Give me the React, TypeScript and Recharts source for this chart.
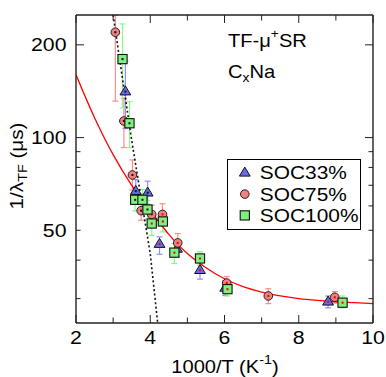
import { ComposedChart, Line, Scatter, XAxis, YAxis, ErrorBar, Legend } from "recharts";

const W = 386;
const H = 377;
const FONT = "'Liberation Sans', Arial, Helvetica, sans-serif";
const SX = 1.15; // the source figure is a bit wide, stretch text to match
const AXIS = "#222";

const X_TICKS = [2, 3, 4, 5, 6, 7, 8, 9, 10];
const X_LABELS = [2, 4, 6, 8, 10];
const Y_TICKS = [30, 40, 50, 60, 70, 80, 90, 100, 200];
const Y_LABELS = [50, 100, 200];
const Y_LONG = [100, 200];

const SERIES_NAMES = ["SOC33%", "SOC75%", "SOC100%"];

// SOC33%
const soc33X = [3.33, 3.61, 3.93, 4.25, 4.72, 5.34, 6.02, 8.79];
const soc33Y = [141, 67, 66.2, 45.1, 43.5, 37.1, 32.5, 29.3];
const soc33Lo = [34, 5, 5.5, 3.3, 2.5, 2.4, 1.8, 1.3];
const soc33Hi = [36, 6, 6, 2.5, 2.5, 2.4, 1.8, 1.3];

// SOC75%
const soc75X = [3.06, 3.29, 3.52, 3.755, 4.04, 4.33, 4.74, 6.06, 7.18, 8.97];
const soc75Y = [219.8, 113.2, 75.6, 57.9, 56.3, 56.3, 45.5, 33.7, 30.6, 30.3];
const soc75Lo = [88.5, 20.4, 8, 4, 4, 4, 3, 1.7, 1.7, 1.3];
const soc75Hi = [30, 21, 9, 4, 4, 4.7, 3.3, 1.7, 1.7, 1.3];

// SOC100%
const soc100X = [3.253, 3.44, 3.594, 3.79, 3.925, 4.04, 4.34, 4.65, 5.34, 6.08, 9.18];
const soc100Y = [179.8, 111.3, 62.8, 62.8, 58.4, 52.6, 53.4, 42.3, 40.5, 32.2, 29.1];
const soc100Lo = [55, 18.5, 5, 5, 4, 4.5, 4, 3.3, 2, 1.6, 1.1];
const soc100Hi = [54, 19.4, 5, 5, 4, 4, 4, 3, 2.1, 1.6, 1.5];

// red fit curve
const fitX = [2, 2.5, 3, 3.5, 4, 4.5, 5, 5.5, 6, 6.5, 7, 7.5, 8, 8.5, 9, 9.5, 10];
const fitY = [160, 116, 88, 70, 58, 48.5, 42, 37.8, 34.8, 32.8, 31.5, 30.6, 30, 29.6, 29.3, 29.1, 28.9];

// dotted black line
const dotX = [3.0, 3.25, 3.5, 3.75, 4.0, 4.2];
const dotY = [250, 156, 98, 64, 42, 25];

const rows = (xs: number[], ys: number[], lo: number[], hi: number[]) =>
  xs.map((x, i) => ({ x, y: ys[i], err: [lo[i], hi[i]] }));
const line = (xs: number[], ys: number[]) => xs.map((x, i) => ({ x, y: ys[i] }));

const soc33 = rows(soc33X, soc33Y, soc33Lo, soc33Hi);
const soc75 = rows(soc75X, soc75Y, soc75Lo, soc75Hi);
const soc100 = rows(soc100X, soc100Y, soc100Lo, soc100Hi);
const fit = line(fitX, fitY);
const dotted = line(dotX, dotY);

const STYLE: Record<string, { fill: string; err: string; kind: string }> = {
  "SOC33%": { fill: "#6a6aee", err: "#8f8ff5", kind: "tri" },
  "SOC75%": { fill: "#f27f7f", err: "#ff8c8c", kind: "circle" },
  "SOC100%": { fill: "#7ff07f", err: "#8cf58c", kind: "square" },
};

function Marker({ kind, cx, cy, fill, dot }: { kind: string; cx: number; cy: number; fill: string; dot?: string }) {
  let body;
  if (kind === "tri") {
    body = <path d={`M${cx},${cy - 5.7}L${cx + 5.4},${cy + 3.3}L${cx - 5.4},${cy + 3.3}Z`} fill={fill} stroke="#111" strokeWidth={1} />;
  } else if (kind === "circle") {
    body = <circle cx={cx} cy={cy} r={4.3} fill={fill} stroke="#222" strokeWidth={1} />;
  } else {
    body = <rect x={cx - 4.6} y={cy - 4.6} width={9.2} height={9.2} fill={fill} stroke="#111" strokeWidth={1.1} />;
  }
  return (
    <g>
      {body}
      {dot && <rect x={cx - 1} y={cy - 1} width={2} height={2} fill={dot} />}
    </g>
  );
}

const shapeFor = (name: string) => (p: any) => (
  <Marker kind={STYLE[name].kind} cx={p.cx} cy={p.cy} fill={STYLE[name].fill} dot={p.payload.x < 4 ? "#111" : "#e00"} />
);

function LeftTick(p: any) {
  const { x, y, payload } = p;
  const v = payload.value;
  const len = Y_LONG.includes(v) ? 8 : 4.5;
  return (
    <g>
      <line x1={x} x2={x + len} y1={y} y2={y} stroke={AXIS} strokeWidth={1} />
      {Y_LABELS.includes(v) && (
        <text transform={`translate(${x - 9.5},${y + 6.5}) scale(${SX},1)`} textAnchor="end" fontFamily={FONT} fontSize={18.5} fill="#000">
          {v}
        </text>
      )}
    </g>
  );
}

function RightTick(p: any) {
  const { x, y, payload } = p;
  const len = Y_LONG.includes(payload.value) ? 8 : 4.5;
  return <line x1={x} x2={x - len} y1={y} y2={y} stroke={AXIS} strokeWidth={1} />;
}

function BottomTick(p: any) {
  const { x, y, payload } = p;
  const v = payload.value;
  const major = X_LABELS.includes(v);
  return (
    <g>
      <line x1={x} x2={x} y1={y} y2={y - (major ? 8 : 5.5)} stroke={AXIS} strokeWidth={1} />
      {major && (
        <text transform={`translate(${x},${y + 21}) scale(${SX},1)`} textAnchor="middle" fontFamily={FONT} fontSize={18.5} fill="#000">
          {v}
        </text>
      )}
    </g>
  );
}

function TopTick(p: any) {
  const { x, y, payload } = p;
  const major = X_LABELS.includes(payload.value);
  return <line x1={x} x2={x} y1={y} y2={y + (major ? 8 : 5.5)} stroke={AXIS} strokeWidth={1} />;
}

function LegendBox({ payload }: any) {
  const items = (payload || [])
    .filter((e: any) => STYLE[e.value])
    .sort((a: any, b: any) => SERIES_NAMES.indexOf(a.value) - SERIES_NAMES.indexOf(b.value));
  return (
    <svg width={134} height={71} style={{ display: "block" }}>
      <rect x={0.5} y={0.5} width={133} height={70} fill="#fff" stroke="#000" strokeWidth={1} />
      {items.map((e: any, i: number) => {
        const cy = 13.8 + i * 21.3;
        const s = STYLE[e.value];
        return (
          <g key={e.value}>
            <Marker kind={s.kind} cx={17.8} cy={cy} fill={s.fill} />
            <text transform={`translate(32.8,${cy + 6.6}) scale(1.13,1)`} fontFamily={FONT} fontSize={18.5} fill="#000">
              {e.value}
            </text>
          </g>
        );
      })}
    </svg>
  );
}

export default function App() {
  return (
    <div style={{ position: "absolute", left: 0, top: 0, width: W, height: H, background: "#fff" }}>
      <ComposedChart width={W} height={H} margin={{ top: 14, right: 12, bottom: 0, left: 0 }}>
        <XAxis
          xAxisId="b"
          dataKey="x"
          type="number"
          domain={[2, 10]}
          ticks={X_TICKS}
          interval={0}
          allowDataOverflow
          height={54}
          tickSize={0}
          tickMargin={0}
          tickLine={false}
          axisLine={{ stroke: AXIS, strokeWidth: 1.4 }}
          tick={BottomTick}
        />
        <XAxis
          xAxisId="t"
          orientation="top"
          dataKey="x"
          type="number"
          domain={[2, 10]}
          ticks={X_TICKS}
          interval={0}
          allowDataOverflow
          height={1}
          tickSize={0}
          tickMargin={0}
          tickLine={false}
          axisLine={{ stroke: AXIS, strokeWidth: 1.4 }}
          tick={TopTick}
        />
        <YAxis
          yAxisId="l"
          dataKey="y"
          type="number"
          scale="log"
          domain={[25, 250]}
          ticks={Y_TICKS}
          interval={0}
          allowDataOverflow
          width={76}
          tickSize={0}
          tickMargin={0}
          tickLine={false}
          axisLine={{ stroke: AXIS, strokeWidth: 1.4 }}
          tick={LeftTick}
        />
        <YAxis
          yAxisId="r"
          orientation="right"
          dataKey="y"
          type="number"
          scale="log"
          domain={[25, 250]}
          ticks={Y_TICKS}
          interval={0}
          allowDataOverflow
          width={1}
          tickSize={0}
          tickMargin={0}
          tickLine={false}
          axisLine={{ stroke: AXIS, strokeWidth: 1.4 }}
          tick={RightTick}
        />
        <Legend
          layout="vertical"
          align="center"
          verticalAlign="middle"
          wrapperStyle={{ left: 226.5, top: 158.5, width: 134, height: 71 }}
          content={(p: any) => <LegendBox payload={p.payload} />}
        />
        {[soc33, soc75, soc100].map((d, i) => {
          const name = SERIES_NAMES[i];
          return (
            <Scatter
              key={name}
              name={name}
              data={d}
              xAxisId="b"
              yAxisId="l"
              fill={STYLE[name].fill}
              shape={shapeFor(name)}
              isAnimationActive={false}
            >
              <ErrorBar dataKey="err" direction="y" width={3} stroke={STYLE[name].err} strokeWidth={1.2} isAnimationActive={false} />
            </Scatter>
          );
        })}
        <Line
          data={fit}
          dataKey="y"
          xAxisId="b"
          yAxisId="l"
          type="monotone"
          stroke="#f00"
          strokeWidth={1.3}
          dot={false}
          legendType="none"
          isAnimationActive={false}
        />
        <Line
          data={dotted}
          dataKey="y"
          xAxisId="b"
          yAxisId="l"
          type="linear"
          stroke="#111"
          strokeWidth={1.6}
          strokeDasharray="2 2.4"
          dot={false}
          legendType="none"
          isAnimationActive={false}
        />
      </ComposedChart>
      <svg width={W} height={H} style={{ position: "absolute", left: 0, top: 0, pointerEvents: "none" }} fontFamily={FONT}>
        <text transform={`translate(228,47.3) scale(${SX},1)`} fontSize={17.5} fill="#000">
          TF-μ<tspan dy={-9} fontSize={12}>+</tspan>
          <tspan dy={9}>SR</tspan>
        </text>
        <text transform={`translate(228,78.3) scale(${SX},1)`} fontSize={17.5} fill="#000">
          C<tspan dy={3.5} fontSize={12}>x</tspan>
          <tspan dy={-3.5}>Na</tspan>
        </text>
        <text transform={`translate(225,373.3) scale(${SX},1)`} textAnchor="middle" fontSize={17.5} fill="#000">
          1000/T (K<tspan dy={-9.5} fontSize={12.5}>-1</tspan>
          <tspan dy={9.5}>)</tspan>
        </text>
        <text transform={`translate(23,166) rotate(-90) scale(${SX},1)`} textAnchor="middle" fontSize={18} fill="#000">
          1/λ<tspan dy={4} fontSize={12.5}>TF</tspan>
          <tspan dy={-4}> (μs)</tspan>
        </text>
      </svg>
    </div>
  );
}
